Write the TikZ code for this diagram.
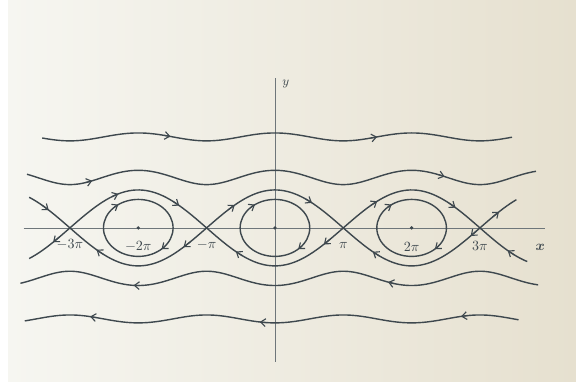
\documentclass[tikz,border=0pt]{standalone}
\usepackage{amsmath}
\usepackage{tikz}
\usetikzlibrary{arrows.meta}
\definecolor{paperL}{RGB}{246,246,241}
\definecolor{paperR}{RGB}{230,224,207}
\definecolor{ink}{RGB}{62,72,78}
% energy levels of the pendulum, y = +-sqrt(2(E+cos x))
\newcommand{\rotE}[1]{sqrt(2*(#1+cos(deg(\x))))}
\newcommand{\sepf}{2*cos(deg(\x/2))}
% short arrow pieces along a curve
\newcommand{\fwd}[2]{\draw[flow] plot[domain=#2-0.3:#2,samples=3] (\x,{#1});}
\newcommand{\bwd}[2]{\draw[flow] plot[domain=#2+0.3:#2,samples=3] (\x,{#1});}
\newcommand{\cw}[2]{\draw[flow] plot[domain=#2+8:#2,samples=3]
  ({#1+1.6*cos(\x)},{1.5*sin(\x)});}

\begin{document}
\begin{tikzpicture}[x=0.544cm,y=0.475cm]
 \tikzstyle{orbit}=[draw=ink,line width=1pt,smooth,samples=150]
 \tikzstyle{flow}=[draw=ink,line width=.8pt,
   -{Straight Barb[length=3.5pt,width=5.5pt]}]
 \tikzstyle{axis}=[draw=ink!75,line width=.45pt]
 \tikzstyle{lbl}=[text=ink,inner sep=1pt]
 \useasboundingbox (-12.64,-8.53) rectangle (13.84,12.0);
 \fill[white] (-12.64,-8.53) rectangle (13.84,12.0);
 \shade[left color=paperL,right color=paperR]
   (-12.27,-8.11) rectangle (13.84,12.0);
 % axes
 \draw[axis] (-11.55,0) -- (12.4,0);
 \draw[axis] (0,-7.05) -- (0,7.9);
 \node (xl) [lbl] at (12.2,-1.05) {$\boldsymbol{x}$};
 \node (yl) [lbl,font=\small] at (0.5,7.6) {$y$};
 % rotations above and below
 \draw[orbit] plot[domain=-10.7:10.9] (\x,{\rotE{11.5}});
 \draw[orbit] plot[domain=-11.4:12.0] (\x,{\rotE{3.6}});
 \draw[orbit] plot[domain=-11.7:12.1] (\x,{-\rotE{3.6}});
 \draw[orbit] plot[domain=-11.5:11.2] (\x,{-\rotE{11.5}});
 % separatrices
 \draw[orbit] plot[domain=-11.3:11.1] (\x,{\sepf});
 \draw[orbit] plot[domain=-11.3:11.6] (\x,{-\sepf});
 % oscillations round the centres
 \foreach \c in {-2,0,2} {
   \draw[orbit] (\c*pi,0) ellipse [x radius=1.6,y radius=1.5];
   \fill[ink] (\c*pi,0) circle (1.3pt);
   \cw{\c*pi}{125}
   \cw{\c*pi}{-48}
 }
 % arrows
 \fwd{\rotE{11.5}}{-4.8}
 \fwd{\rotE{11.5}}{4.7}
 \fwd{\rotE{3.6}}{-8.4}
 \fwd{\rotE{3.6}}{7.8}
 \bwd{-\rotE{3.6}}{-6.5}
 \bwd{-\rotE{3.6}}{5.2}
 \bwd{-\rotE{11.5}}{-8.5}
 \bwd{-\rotE{11.5}}{-0.7}
 \bwd{-\rotE{11.5}}{8.55}
 \fwd{\sepf}{-10.4}
 \fwd{-\sepf}{-7.2}
 \fwd{-\sepf}{-4.4}
 \fwd{\sepf}{-1.85}
 \fwd{\sepf}{1.7}
 \fwd{-\sepf}{4.7}
 \fwd{-\sepf}{8.3}
 \fwd{\sepf}{10.3}
 \bwd{-\sepf}{-10.2}
 \bwd{\sepf}{-8.2}
 \bwd{\sepf}{-4.2}
 \bwd{-\sepf}{-1.8}
 \bwd{-\sepf}{2.25}
 \bwd{\sepf}{4.5}
 \bwd{\sepf}{9.0}
 \bwd{-\sepf}{10.7}
 % labels on the x axis
 \node (m3pi) [lbl] at (-3*pi,-0.9) {$-3\pi$};
 \node (m2pi) [lbl] at (-2*pi,-1.0) {$-2\pi$};
 \node (m1pi) [lbl] at (-pi,-0.9) {$-\pi$};
 \node (p1pi) [lbl] at (pi,-0.95) {$\pi$};
 \node (p2pi) [lbl] at (2*pi,-1.0) {$2\pi$};
 \node (p3pi) [lbl] at (3*pi,-0.95) {$3\pi$};
\end{tikzpicture}
\end{document}
